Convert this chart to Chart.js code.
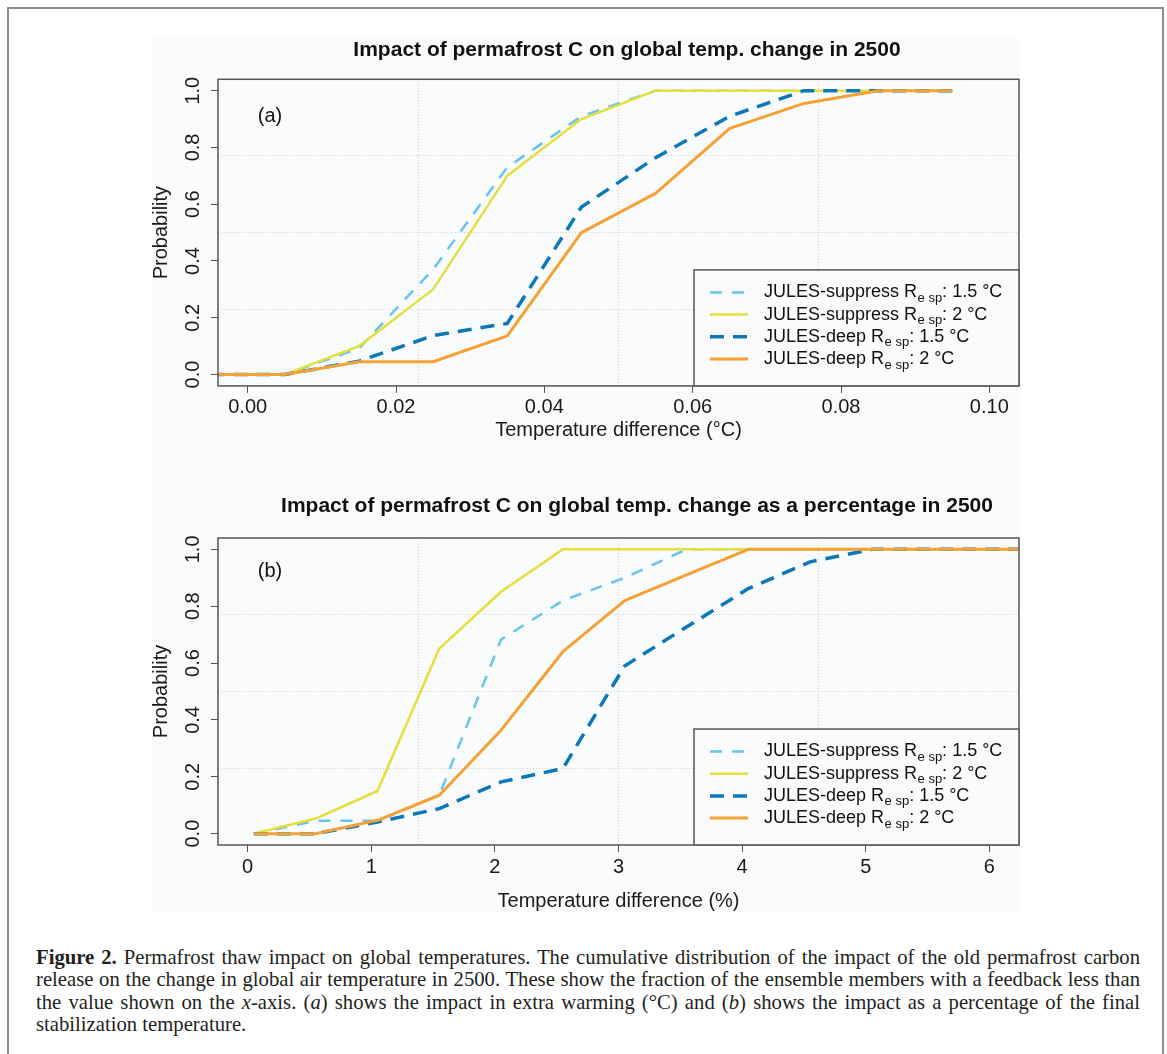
<!DOCTYPE html>
<html>
<head>
<meta charset="utf-8">
<script src="https://cdn.jsdelivr.net/npm/chart.js@4.4.1/dist/chart.umd.min.js"></script>
<style>
html, body { margin:0; padding:0; background:#fff; overflow:hidden; width:1167px; height:1054px; }
#frame { position:absolute; left:7px; top:7px; width:1153px; height:1070px; border:2px solid #8d8d8d; border-bottom:none; }
#figbg { position:absolute; left:152px; top:38px; width:868px; height:874px; background:#fafbfd; }
canvas { position:absolute; }
#capt { position:absolute; left:36px; top:946px; width:1104px; font-family:'Liberation Serif','Times New Roman',serif; font-size:20.7px; color:#231f20; }
#capt div { height:22.4px; line-height:22.4px; white-space:nowrap; text-align:justify; text-align-last:justify; }
#capt div.last { text-align:left; text-align-last:left; }
</style>
</head>
<body>
<div id="frame"></div>
<div id="figbg"></div>
<canvas id="chartA" width="900" height="440" style="left:140px;top:30px;width:900px;height:440px"></canvas>
<canvas id="chartB" width="900" height="440" style="left:140px;top:480px;width:900px;height:440px"></canvas>
<div id="capt">
<div><b>Figure 2.</b> Permafrost thaw impact on global temperatures. The cumulative distribution of the impact of the old permafrost carbon</div>
<div>release on the change in global air temperature in 2500. These show the fraction of the ensemble members with a feedback less than</div>
<div>the value shown on the <i>x</i>-axis. (<i>a</i>) shows the impact in extra warming (°C) and (<i>b</i>) shows the impact as a percentage of the final</div>
<div class="last">stabilization temperature.</div>
</div>
<script>
// ---------- data ----------
const seriesModel = ['JULES-suppress', 'JULES-suppress', 'JULES-deep', 'JULES-deep'];
const seriesTemp = ['1.5 °C', '2 °C', '1.5 °C', '2 °C'];

// Panel (a): temperature difference (°C)
const xA = [-0.005, 0.005, 0.015, 0.025, 0.035, 0.045, 0.055, 0.065, 0.075, 0.085, 0.095];
const supp15A = [0, 0, 0.092, 0.37, 0.73, 0.91, 1, 1, 1, 1, 1];
const supp2A  = [0, 0, 0.10, 0.30, 0.70, 0.90, 1, 1, 1, 1, 1];
const deep15A = [0, 0, 0.047, 0.137, 0.18, 0.59, 0.764, 0.91, 1, 1, 1];
const deep2A  = [0, 0, 0.045, 0.045, 0.136, 0.50, 0.638, 0.867, 0.955, 1, 1];
const xTicksA = [0, 0.02, 0.04, 0.06, 0.08, 0.10];
const xTickLabelsA = ['0.00', '0.02', '0.04', '0.06', '0.08', '0.10'];
const xGridA = [0.023, 0.050, 0.077];

// Panel (b): temperature difference (%)
const xB = [0.05, 0.55, 1.05, 1.55, 2.05, 2.55, 3.05, 3.55, 4.05, 4.55, 5.05, 5.55, 6.05, 6.55];
const supp15B = [0, 0.045, 0.045, 0.135, 0.683, 0.82, 0.90, 1, 1, 1, 1, 1, 1, 1];
const supp2B  = [0, 0.053, 0.15, 0.651, 0.851, 1, 1, 1, 1, 1, 1, 1, 1, 1];
const deep15B = [0, 0, 0.041, 0.088, 0.182, 0.229, 0.59, 0.727, 0.862, 0.956, 1, 1, 1, 1];
const deep2B  = [0, 0, 0.047, 0.135, 0.364, 0.64, 0.82, 0.91, 1, 1, 1, 1, 1, 1];
const xTicksB = [0, 1, 2, 3, 4, 5, 6];
const xTickLabelsB = ['0', '1', '2', '3', '4', '5', '6'];
const xGridB = [1.38, 3.0, 4.62];

const yTicks = [0, 0.2, 0.4, 0.6, 0.8, 1.0];
const yTickLabels = ['0.0', '0.2', '0.4', '0.6', '0.8', '1.0'];
const yGrid = [0.23, 0.50, 0.77];

// ---------- styles ----------
const styleColor = ['#66c4ee', '#e5df3b', '#0b78b8', '#f6a134'];
const styleWidth = [2.5, 2.5, 3.5, 3];
const styleDash = [[12, 10], [], [14, 9], []];
const styleOrder = [3, 2, 1, 0];

const F = "'Liberation Sans', Arial, Helvetica, sans-serif";
const TXT = '#1a1a1a';
Chart.defaults.font.family = F;
Chart.defaults.color = TXT;

const decor = {
  id: 'decor',
  afterDatasetsDraw(chart) {
    const {ctx, chartArea: a} = chart;
    ctx.save();
    ctx.strokeStyle = '#555';
    ctx.lineWidth = 1.5;
    ctx.strokeRect(a.left, a.top, a.right - a.left, a.bottom - a.top);
    ctx.restore();
  },
  afterDraw(chart, args, o) {
    const {ctx, chartArea: a} = chart;
    ctx.save();
    ctx.fillStyle = '#111';
    ctx.textAlign = 'center';
    ctx.textBaseline = 'middle';
    ctx.font = 'bold 21px ' + F;
    ctx.fillText(o.title, o.titleX, o.titleY);
    ctx.font = '20px ' + F;
    ctx.fillText(o.panel, a.left + 52, a.top + o.panelDy);
    // legend
    const lw = 325, lh = 116;
    const lx = a.right - lw, ly = a.bottom - lh;
    ctx.fillStyle = '#fbfbfd';
    ctx.fillRect(lx, ly, lw, lh);
    ctx.strokeStyle = '#555';
    ctx.lineWidth = 1.5;
    ctx.strokeRect(lx, ly, lw, lh);
    chart.data.datasets.forEach((ds, i) => {
      const cy = ly + 22.5 + i * 22.2;
      ctx.strokeStyle = ds.borderColor;
      ctx.lineWidth = ds.borderWidth;
      ctx.setLineDash(ds.borderDash || []);
      ctx.beginPath();
      ctx.moveTo(lx + 16, cy);
      ctx.lineTo(lx + 54, cy);
      ctx.stroke();
      ctx.setLineDash([]);
      ctx.fillStyle = '#111';
      ctx.textAlign = 'left';
      ctx.textBaseline = 'middle';
      ctx.font = '18px ' + F;
      const t = seriesModel[i] + ' R';
      ctx.fillText(t, lx + 70, cy);
      let x = lx + 70 + ctx.measureText(t).width + 0.5;
      ctx.font = '13px ' + F;
      ctx.fillText('e sp', x, cy + 6);
      x += ctx.measureText('e sp').width;
      ctx.font = '18px ' + F;
      ctx.fillText(': ' + seriesTemp[i], x, cy);
    });
    ctx.restore();
  }
};

function makeChart(id, c) {
  const series = [c.s15, c.s2, c.d15, c.d2];
  const datasets = series.map((ys, i) => ({
    label: seriesModel[i] + ' R e sp: ' + seriesTemp[i],
    data: c.xs.map((x, j) => ({x: x, y: ys[j]})),
    borderColor: styleColor[i],
    backgroundColor: styleColor[i],
    borderWidth: styleWidth[i],
    borderDash: styleDash[i],
    order: styleOrder[i],
    pointRadius: 0,
    pointHoverRadius: 0,
    tension: 0,
    fill: false,
    clip: 0,
    borderJoinStyle: 'round'
  }));
  const tickGrid = {display: true, drawOnChartArea: false, drawTicks: true, tickLength: 7, tickColor: '#555', tickWidth: 1};
  return new Chart(document.getElementById(id), {
    type: 'line',
    data: {datasets},
    options: {
      responsive: false,
      animation: false,
      devicePixelRatio: 1,
      events: [],
      layout: {padding: {left: 0, right: 21, top: c.padTop, bottom: c.padBottom}},
      plugins: {
        legend: {display: false},
        tooltip: {enabled: false},
        title: {display: false},
        decor: {title: c.title, titleX: c.titleX, titleY: c.titleY, panel: c.panel, panelDy: c.panelDy}
      },
      scales: {
        x: {
          type: 'linear', position: 'bottom', min: c.xMin, max: c.xMax,
          afterBuildTicks: s => { s.ticks = c.xTicks.map(v => ({value: v})); },
          afterFit: s => { s.height = c.xAxisH; },
          ticks: {callback: (v, i) => c.xTickLabels[i], font: {size: 20}, color: TXT, padding: 3, minRotation: 0, maxRotation: 0, autoSkip: false},
          grid: tickGrid,
          border: {display: false},
          title: {display: true, text: c.xTitle, font: {size: 20}, color: TXT, padding: {top: 0, bottom: c.xTitlePad}}
        },
        y: {
          type: 'linear', position: 'left', min: -0.04, max: 1.04,
          afterBuildTicks: s => { s.ticks = yTicks.map(v => ({value: v})); },
          afterFit: s => { s.width = 78; },
          ticks: {callback: (v, i) => yTickLabels[i], font: {size: 20}, color: TXT, padding: 3.6, minRotation: 90, maxRotation: 90, crossAlign: 'center', autoSkip: false},
          grid: tickGrid,
          border: {display: false},
          title: {display: true, text: 'Probability', font: {size: 20}, color: TXT, padding: {top: 9, bottom: 0}}
        },
        xg: {
          type: 'linear', position: 'top', min: c.xMin, max: c.xMax,
          afterBuildTicks: s => { s.ticks = c.xGrid.map(v => ({value: v})); },
          afterFit: s => { s.height = 0; },
          ticks: {display: false},
          grid: {display: true, drawTicks: false, drawOnChartArea: true, color: '#cdcdcd', lineWidth: 1},
          border: {display: false, dash: [1, 2]}
        },
        yg: {
          type: 'linear', position: 'right', min: -0.04, max: 1.04,
          afterBuildTicks: s => { s.ticks = yGrid.map(v => ({value: v})); },
          afterFit: s => { s.width = 0; },
          ticks: {display: false},
          grid: {display: true, drawTicks: false, drawOnChartArea: true, color: '#cdcdcd', lineWidth: 1},
          border: {display: false, dash: [1, 2]}
        }
      }
    },
    plugins: [decor]
  });
}

makeChart('chartA', {
  xs: xA, s15: supp15A, s2: supp2A, d15: deep15A, d2: deep2A,
  xMin: -0.004, xMax: 0.104, xTicks: xTicksA, xTickLabels: xTickLabelsA, xGrid: xGridA,
  xTitle: 'Temperature difference (°C)', xAxisH: 60, xTitlePad: 3.2,
  padTop: 49.3, padBottom: 24.1,
  title: 'Impact of permafrost C on global temp. change in 2500', titleX: 487, titleY: 20,
  panel: '(a)', panelDy: 37.4
});

makeChart('chartB', {
  xs: xB, s15: supp15B, s2: supp2B, d15: deep15B, d2: deep2B,
  xMin: -0.24, xMax: 6.24, xTicks: xTicksB, xTickLabels: xTickLabelsB, xGrid: xGridB,
  xTitle: 'Temperature difference (%)', xAxisH: 72, xTitlePad: 3.3,
  padTop: 58, padBottom: 3,
  title: 'Impact of permafrost C on global temp. change as a percentage in 2500', titleX: 497, titleY: 26.7,
  panel: '(b)', panelDy: 33.7
});
</script>
</body>
</html>
